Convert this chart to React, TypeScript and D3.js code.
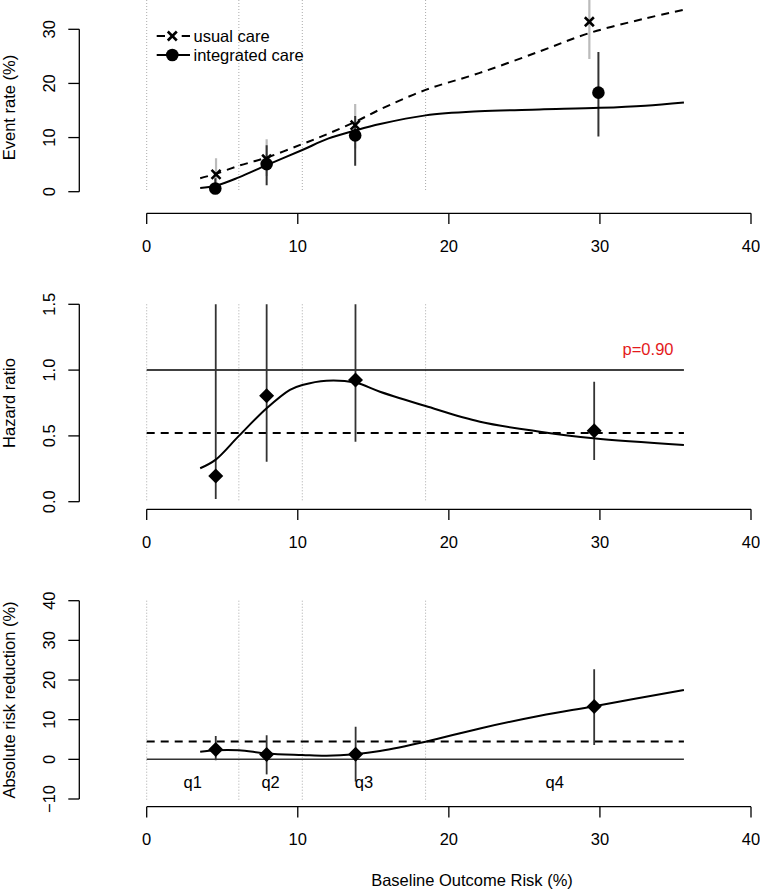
import React from "react";
import * as d3 from "d3";

// ---------- data ----------
const quartileBounds = [0, 6.1, 10.3, 18.46, 35.56];
const quartileLabels = ["q1", "q2", "q3", "q4"];
const usualX = [4.59, 7.94, 13.8, 29.3];
const integX = [4.54, 7.94, 13.8, 29.9];

const usualRate = [3.2, 6.0, 12.3, 31.4];
const usualLo = [0.8, 2.9, 8.0, 24.5];
const usualHi = [6.2, 9.7, 16.2, 40];
const integRate = [0.6, 5.1, 10.4, 18.3];
const integLo = [0.0, 1.2, 4.8, 10.2];
const integHi = [2.5, 8.6, 14.0, 25.8];

const usualCurveX = [3.54, 4.57, 6.1, 7.94, 10.3, 12.0, 13.8, 15.45, 18.46, 22.0, 26.0, 29.3, 33.0, 35.56];
const usualCurveY = [2.5, 3.3, 4.8, 6.3, 8.8, 10.7, 12.9, 15.2, 18.8, 21.9, 25.9, 29.3, 32.0, 33.6];
const integCurveX = [3.54, 4.57, 6.1, 7.94, 10.3, 12.0, 13.8, 15.45, 18.46, 22.0, 26.0, 30.0, 33.0, 35.56];
const integCurveY = [0.7, 1.1, 2.65, 4.9, 7.7, 9.8, 11.3, 12.5, 14.1, 14.85, 15.2, 15.5, 15.9, 16.5];

const hrX = [4.57, 7.94, 13.82, 29.62];
const hrVal = [0.195, 0.806, 0.925, 0.54];
const hrLo = [0.02, 0.304, 0.456, 0.317];
const hrHi = [2.0, 2.0, 2.0, 0.912];
const hrCurveX = [3.54, 4.57, 6.1, 7.94, 9.48, 10.3, 11.9, 13.8, 15.44, 18.46, 22.06, 26.03, 29.56, 35.56];
const hrCurveY = [0.254, 0.32, 0.5, 0.71, 0.85, 0.887, 0.92, 0.905, 0.836, 0.727, 0.608, 0.532, 0.482, 0.431];
const hrOverall = 0.522;
const pText = "p=0.90";

const arrX = [4.57, 7.94, 13.83, 29.62];
const arrVal = [2.5, 1.25, 1.3, 13.3];
const arrLo = [-0.2, -3.8, -5.6, 3.6];
const arrHi = [5.9, 6.1, 8.2, 22.7];
const arrCurveX = [3.54, 4.57, 6.1, 7.94, 10.3, 11.9, 13.8, 15.44, 18.46, 22.06, 26.03, 29.62, 35.56];
const arrCurveY = [1.9, 2.3, 2.3, 1.5, 1.1, 0.9, 1.3, 2.1, 4.45, 7.8, 11.0, 13.4, 17.5];
const arrOverall = 4.5;

const xTicks = [0, 10, 20, 30, 40];
const topTicks = [0, 10, 20, 30];
const midTicks = [0, 0.5, 1.0, 1.5];
const midTickLabels = ["0.0", "0.5", "1.0", "1.5"];
const botTicks = [-10, 0, 10, 20, 30, 40];

// ---------- layout ----------
const FONT = "'Liberation Sans', Arial, Helvetica, sans-serif";
const FS = 16.5;
const x = d3.scaleLinear().domain([0, 40]).range([146.7, 751]);
const yTop = d3.scaleLinear().domain([0, 30]).range([191.7, 29.3]);
const yMid = d3.scaleLinear().domain([0, 1.5]).range([501.7, 304.3]);
const yBot = d3.scaleLinear().domain([-10, 40]).range([799, 600.7]);

const panels = [
  { y: yTop, top: -5, bottom: 191.7, axisY: 213.3, labelY: 251.7, title: "Event rate (%)", titleY: 107.5 },
  { y: yMid, top: 304.3, bottom: 501.7, axisY: 509.3, labelY: 548, title: "Hazard ratio", titleY: 403 },
  { y: yBot, top: 600.7, bottom: 800, axisY: 806.7, labelY: 845, title: "Absolute risk reduction (%)", titleY: 700 },
];

function curvePath(xs: number[], ys: number[], ys2: d3.ScaleLinear<number, number>) {
  const pts = xs.map((v, i) => [v, ys[i]] as [number, number]);
  return d3.line<[number, number]>().x((d) => x(d[0])).y((d) => ys2(d[1])).curve(d3.curveCatmullRom.alpha(0.5))(pts) || "";
}

function Diamond({ cx, cy, r = 7.5 }: { cx: number; cy: number; r?: number }) {
  return <path d={`M${cx},${cy - r}L${cx + r},${cy}L${cx},${cy + r}L${cx - r},${cy}Z`} fill="#000" />;
}

function XMark({ cx, cy, r = 4.5 }: { cx: number; cy: number; r?: number }) {
  return (
    <g stroke="#000" strokeWidth={2.6}>
      <line x1={cx - r} y1={cy - r} x2={cx + r} y2={cy + r} />
      <line x1={cx - r} y1={cy + r} x2={cx + r} y2={cy - r} />
    </g>
  );
}

export default function App() {
  const yAxisX = 79.3;
  return (
    <div style={{ position: "absolute", left: 0, top: 0 }}>
      <svg width={760} height={890} style={{ display: "block", fontFamily: FONT }}>
        <rect width={760} height={890} fill="#fff" />
        <defs>
          <clipPath id="cTop"><rect x={0} y={0} width={760} height={191.7 + 5} /></clipPath>
          <clipPath id="cMid"><rect x={0} y={304.3} width={760} height={197.4} /></clipPath>
          <clipPath id="cBot"><rect x={0} y={600.7} width={760} height={199.3} /></clipPath>
        </defs>

        {/* quartile dotted separators */}
        {panels.map((p, pi) =>
          quartileBounds.slice(0, 4).map((b, i) => (
            <line key={`d${pi}-${i}`} x1={x(b)} x2={x(b)} y1={Math.max(p.top, 0)} y2={p.bottom}
              stroke="#aaa" strokeWidth={1} strokeDasharray="1,2" />
          ))
        )}

        {/* axes */}
        {panels.map((p, pi) => {
          const yt = pi === 0 ? topTicks : pi === 1 ? midTicks : botTicks;
          const yl = pi === 1 ? midTickLabels : yt.map((t) => (t < 0 ? `\u2212${Math.abs(t)}` : `${t}`));
          return (
            <g key={`ax${pi}`}>
              <line x1={x(0)} x2={x(40)} y1={p.axisY} y2={p.axisY} stroke="#000" strokeWidth={1.3} />
              {xTicks.map((t) => (
                <g key={t}>
                  <line x1={x(t)} x2={x(t)} y1={p.axisY} y2={p.axisY + 10.7} stroke="#000" strokeWidth={1.3} />
                  <text x={x(t)} y={p.labelY} fontSize={FS} textAnchor="middle" fill="#000">{t}</text>
                </g>
              ))}
              <line x1={yAxisX} x2={yAxisX} y1={p.y(yt[0])} y2={p.y(yt[yt.length - 1])} stroke="#000" strokeWidth={1.3} />
              {yt.map((t, i) => (
                <g key={`y${t}`}>
                  <line x1={yAxisX - 11} x2={yAxisX} y1={p.y(t)} y2={p.y(t)} stroke="#000" strokeWidth={1.3} />
                  <text transform={`translate(55,${p.y(t)}) rotate(-90)`} fontSize={FS} textAnchor="middle" fill="#000">{yl[i]}</text>
                </g>
              ))}
              <text transform={`translate(15,${p.titleY}) rotate(-90)`} fontSize={FS} textAnchor="middle" fill="#000">{p.title}</text>
            </g>
          );
        })}
        <text x={472} y={886} fontSize={FS} textAnchor="middle" fill="#000">Baseline Outcome Risk (%)</text>

        {/* ---- top panel ---- */}
        <g clipPath="url(#cTop)">
          {usualX.map((v, i) => (
            <line key={`uc${i}`} x1={x(v)} x2={x(v)} y1={yTop(usualLo[i])} y2={yTop(usualHi[i])} stroke="#bbb" strokeWidth={2.2} />
          ))}
          {integX.map((v, i) => (
            <line key={`ic${i}`} x1={x(v)} x2={x(v)} y1={yTop(integLo[i])} y2={yTop(integHi[i])} stroke="#333" strokeWidth={2} />
          ))}
          <path d={curvePath(usualCurveX, usualCurveY, yTop)} fill="none" stroke="#000" strokeWidth={2} strokeDasharray="8,6" />
          <path d={curvePath(integCurveX, integCurveY, yTop)} fill="none" stroke="#000" strokeWidth={2} />
          {usualX.map((v, i) => <XMark key={`ux${i}`} cx={x(v)} cy={yTop(usualRate[i])} />)}
          {integX.map((v, i) => <circle key={`ip${i}`} cx={x(v)} cy={yTop(integRate[i])} r={6.3} fill="#000" />)}
        </g>
        {/* legend */}
        <g>
          <line x1={156.7} x2={165} y1={36} y2={36} stroke="#000" strokeWidth={2} />
          <line x1={181.7} x2={190} y1={36} y2={36} stroke="#000" strokeWidth={2} />
          <XMark cx={172.3} cy={36} />
          <text x={193.5} y={42} fontSize={FS} fill="#000">usual care</text>
          <line x1={156.7} x2={190} y1={55} y2={55} stroke="#000" strokeWidth={2} />
          <circle cx={172.3} cy={55} r={6.3} fill="#000" />
          <text x={193.5} y={61} fontSize={FS} fill="#000">integrated care</text>
        </g>

        {/* ---- middle panel ---- */}
        <g clipPath="url(#cMid)">
          <line x1={x(0)} x2={x(quartileBounds[4])} y1={yMid(1)} y2={yMid(1)} stroke="#000" strokeWidth={1.5} />
          <line x1={x(0)} x2={x(quartileBounds[4])} y1={yMid(hrOverall)} y2={yMid(hrOverall)} stroke="#000" strokeWidth={2} strokeDasharray="8,6" />
          {hrX.map((v, i) => (
            <line key={`hc${i}`} x1={x(v)} x2={x(v)} y1={yMid(hrLo[i])} y2={yMid(hrHi[i])} stroke="#333" strokeWidth={1.8} />
          ))}
          <path d={curvePath(hrCurveX, hrCurveY, yMid)} fill="none" stroke="#000" strokeWidth={2} />
          {hrX.map((v, i) => <Diamond key={`hd${i}`} cx={x(v)} cy={yMid(hrVal[i])} />)}
        </g>
        <text x={673.5} y={355} fontSize={FS} textAnchor="end" fill="#e41a1c">{pText}</text>

        {/* ---- bottom panel ---- */}
        <g clipPath="url(#cBot)">
          <line x1={x(0)} x2={x(quartileBounds[4])} y1={yBot(0)} y2={yBot(0)} stroke="#333" strokeWidth={1.5} />
          <line x1={x(0)} x2={x(quartileBounds[4])} y1={yBot(arrOverall)} y2={yBot(arrOverall)} stroke="#000" strokeWidth={2} strokeDasharray="8,6" />
          {arrX.map((v, i) => (
            <line key={`ac${i}`} x1={x(v)} x2={x(v)} y1={yBot(arrLo[i])} y2={yBot(arrHi[i])} stroke="#333" strokeWidth={1.8} />
          ))}
          <path d={curvePath(arrCurveX, arrCurveY, yBot)} fill="none" stroke="#000" strokeWidth={2} />
          {arrX.map((v, i) => <Diamond key={`ad${i}`} cx={x(v)} cy={yBot(arrVal[i])} />)}
        </g>
        {quartileLabels.map((q, i) => (
          <text key={q} x={x((quartileBounds[i] + quartileBounds[i + 1]) / 2)} y={788} fontSize={FS} textAnchor="middle" fill="#000">{q}</text>
        ))}
      </svg>
    </div>
  );
}
